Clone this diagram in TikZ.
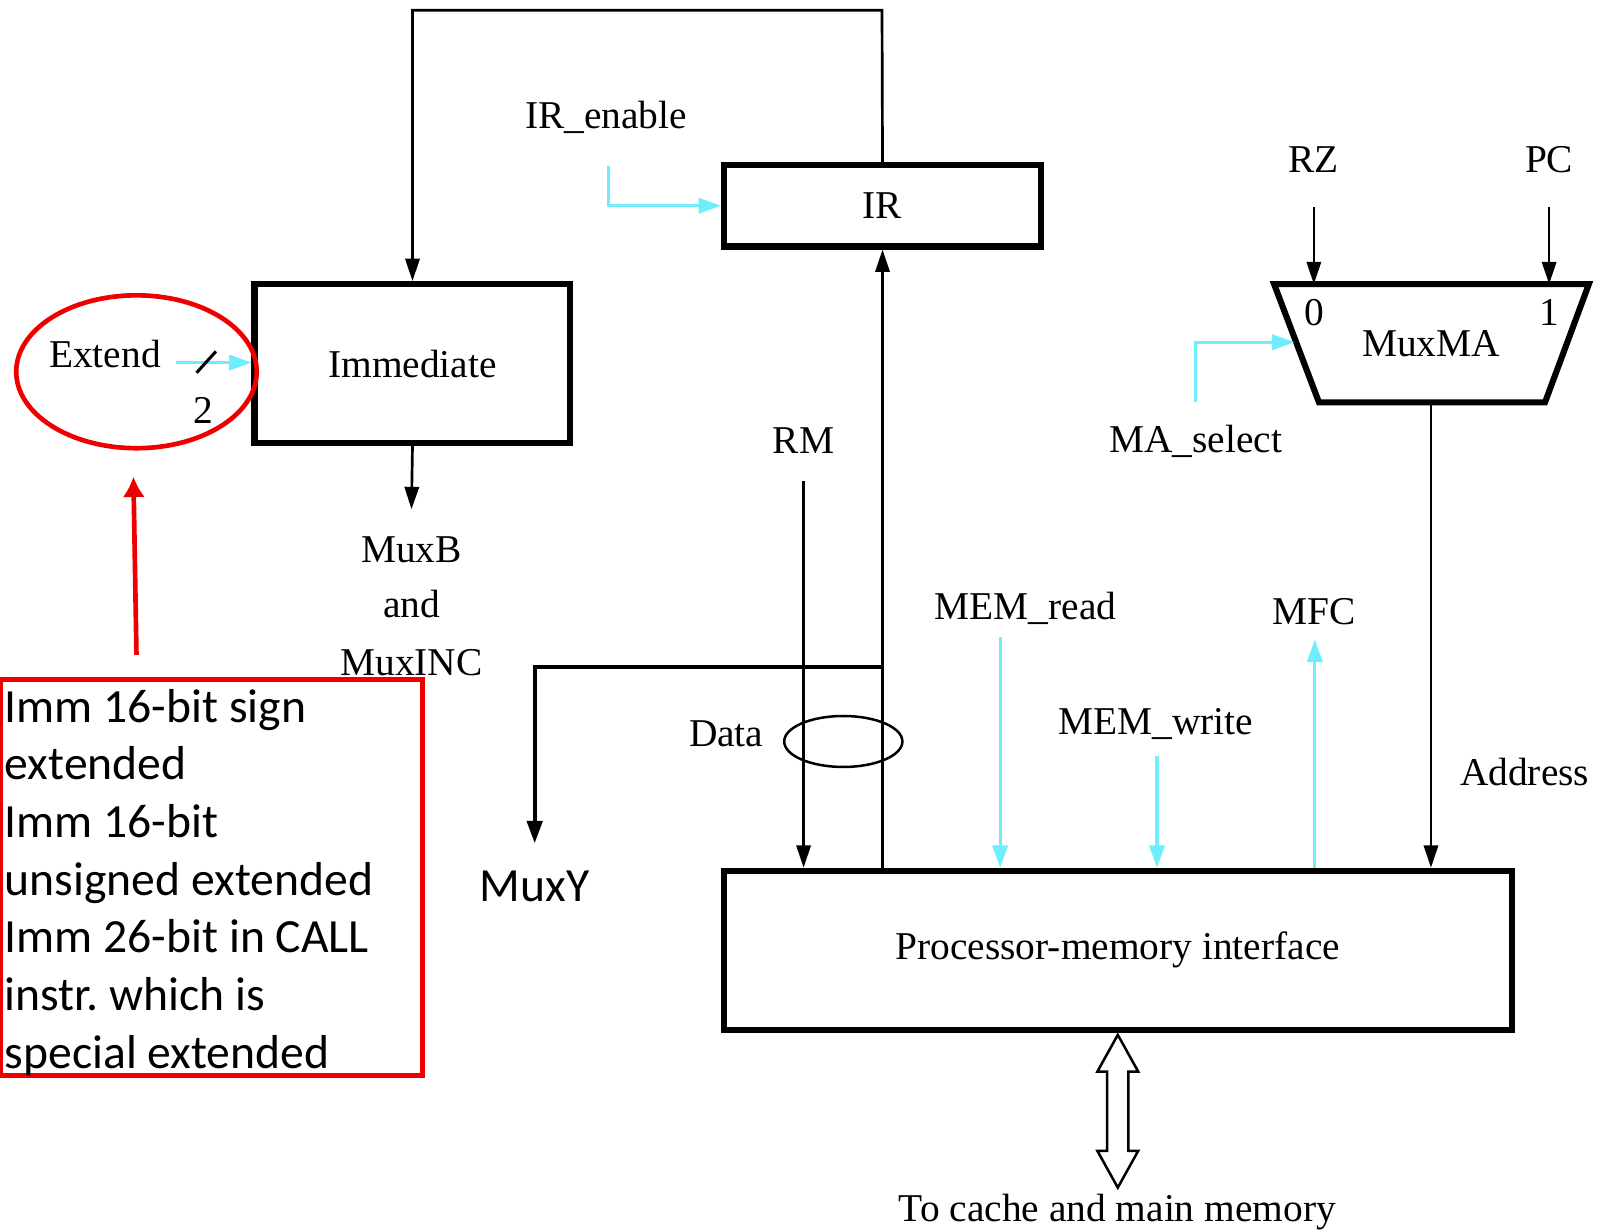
\documentclass[tikz,border=0pt]{standalone}
\usepackage{fontspec}
\setmainfont{Liberation Serif}
\newfontfamily\notefont{Carlito}
\usetikzlibrary{arrows.meta,shapes.geometric}
\definecolor{ctrl}{RGB}{110,238,252}
\definecolor{hilite}{RGB}{238,0,0}

\begin{document}
\begin{tikzpicture}[x=0.01cm,y=-0.01cm,
  lbl/.style={font=\fontsize{11}{13}\selectfont, inner sep=0pt},
  note/.style={font=\notefont\fontsize{13.3}{16.1}\selectfont, inner sep=0pt},
  unitbox/.style={draw, line width=1.7pt, inner sep=0pt, font=\fontsize{11}{13}\selectfont},
  wire/.style={line width=0.75pt, -{Triangle[length=0.22cm,width=0.14cm]}},
  bus/.style={line width=1.1pt, -{Triangle[length=0.22cm,width=0.15cm]}},
  ctl/.style={draw=ctrl, line width=0.85pt, -{Triangle[length=0.22cm,width=0.15cm]}},
  hl/.style={draw=hilite, line width=1.3pt},
]
\useasboundingbox (0,0) rectangle (1568,1208);

% main units
\node[unitbox, minimum width=3.11cm, minimum height=0.8cm] (ir) at (866.5,202) {IR};
\node[unitbox, minimum width=3.10cm, minimum height=1.56cm] (imm) at (405,357) {Immediate};
\node[unitbox, minimum width=7.73cm, minimum height=1.56cm] (pmi) at (1097.5,933) {Processor-memory interface};

% MuxMA trapezoid
\coordinate (maTL) at (1251,279);
\coordinate (maTR) at (1560,279);
\coordinate (maBR) at (1517,395);
\coordinate (maBL) at (1295,395);
\draw[line width=1.7pt, line join=miter] (maTL) -- (maTR) -- (maBR) -- (maBL) -- cycle;
\node[lbl] (ma0) at (1290,307) {0};
\node[lbl] (ma1) at (1521,307) {1};
\node[lbl] (maname) at (1405,337) {MuxMA};
\coordinate (maIn0) at (1290,279);
\coordinate (maIn1) at (1521,279);
\coordinate (maSel) at (1271,336);
\coordinate (maOut) at (1405,395);

% labels
\node[lbl] (irenlbl) at (595,115) {IR\_enable};
\node[lbl] (rzlbl) at (1290,157) {RZ};
\node[lbl] (pclbl) at (1521,157) {PC};
\node[lbl] (extlbl) at (103,348) {Extend};
\node[lbl] (twolbl) at (200,403) {2};
\node[lbl] (muxblbl) at (404,540) {MuxB};
\node[lbl] (andlbl) at (404,593) {and};
\node[lbl] (muxinclbl) at (404,651) {MuxINC};
\node[lbl] (rmlbl) at (789,433) {RM};
\node[lbl] (maselbl) at (1174,433) {MA\_select};
\node[lbl] (rdlbl) at (1007,597) {MEM\_read};
\node[lbl] (mfclbl) at (1290,601) {MFC};
\node[lbl] (datalbl) at (713,720) {Data};
\node[lbl] (wrlbl) at (1135,711) {MEM\_write};
\node[lbl] (addrlbl) at (1497,758) {Address};
\node[note] (muxylbl) at (525,870) {MuxY};
\node[lbl] (memlbl) at (1097,1190) {To cache and main memory};

% instruction field feedback to Immediate
\coordinate (topbend) at (866,10);
\draw[wire] (ir.north) -- (topbend) -| (imm.north);

% IR enable
\coordinate (irensrc) at (597,163);
\draw[ctl] (irensrc) |- (ir.west);

% Immediate output
\coordinate (immdst) at (404,500);
\draw[wire] (imm.south) -- (immdst);

% Extend control with bus width mark
\coordinate (extsrc) at (173,356);
\draw[ctl] (extsrc) -- (imm.west |- extsrc);
\draw[line width=0.85pt] (193,366) -- (212,345);

% memory data into IR and towards MuxY
\draw[wire] (ir.south |- pmi.north) -- (ir.south);
\coordinate (tap) at (866,655);
\coordinate (muxyin) at (525,828);
\draw[bus] (tap) -| (muxyin);

% RM into interface
\coordinate (rmsrc) at (789,472);
\draw[wire] (rmsrc) -- (rmsrc |- pmi.north);

% data bundle
\node[draw, ellipse, line width=0.7pt, minimum width=1.16cm, minimum height=0.5cm, inner sep=0pt] (bundle) at (828,728) {};

% memory control signals
\coordinate (rdsrc) at (982,625);
\draw[ctl] (rdsrc) -- (rdsrc |- pmi.north);
\coordinate (wrsrc) at (1136,742);
\draw[ctl] (wrsrc) -- (wrsrc |- pmi.north);
\coordinate (mfcdst) at (1291,628);
\draw[ctl] (mfcdst |- pmi.north) -- (mfcdst);

% MuxMA inputs, select and output
\coordinate (rzsrc) at (1290,203);
\coordinate (pcsrc) at (1521,203);
\draw[wire] (rzsrc) -- (maIn0);
\draw[wire] (pcsrc) -- (maIn1);
\coordinate (selsrc) at (1174,395);
\draw[ctl] (selsrc) |- (maSel);
\draw[wire] (maOut) -- (maOut |- pmi.north);

% bidirectional memory bus
\draw[line width=0.7pt, fill=white, shift={(pmi.south)}]
  (0,2) -- (20,38) -- (10.5,38) -- (10.5,116) -- (20,116) -- (0,152)
  -- (-20,116) -- (-10.5,116) -- (-10.5,38) -- (-20,38) -- cycle;

% annotation
\draw[hl] (134,365) ellipse [x radius=1.18cm, y radius=0.75cm];
\node[hl, minimum width=4.14cm, minimum height=3.89cm, inner sep=0pt] (notebox) at (208,861.5) {};
\node[note, align=left, anchor=north west] (notetxt) at (4,676)
  {Imm 16-bit sign\\extended\\Imm 16-bit\\unsigned extended\\Imm 26-bit in CALL\\instr.\ which is\\special extended};
\coordinate (notesrc) at (134,643);
\coordinate (notedst) at (131,468);
\draw[hl, -{Latex[length=0.2cm,width=0.22cm]}] (notesrc) -- (notedst);

\end{tikzpicture}
\end{document}
